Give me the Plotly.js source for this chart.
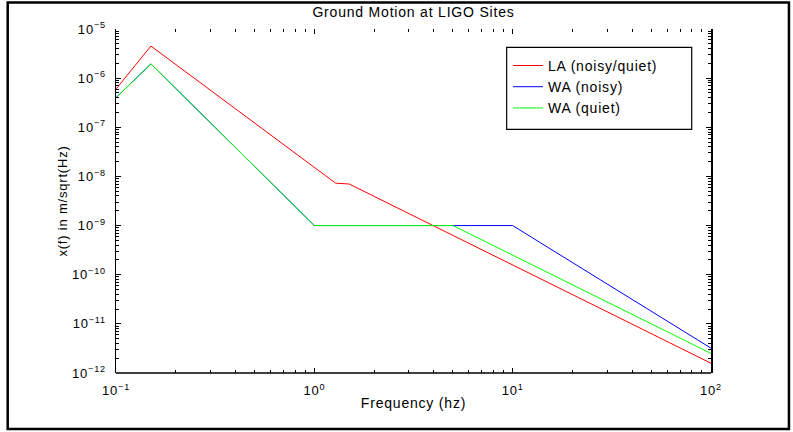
<!DOCTYPE html>
<html>
<head>
<meta charset="utf-8">
<script src="https://cdn.plot.ly/plotly-3.0.1.min.js"></script>
<style>
html,body{margin:0;padding:0;background:#fff;overflow:hidden;}
#chart{width:793px;height:432px;}
#chart text{letter-spacing:0.8px;}
#chart .legend .scrollbox{clip-path:none !important;}
</style>
</head>
<body>
<div id="chart"></div>
<script>
// ---- data ----
const seriesNames = ['LA (noisy/quiet)', 'WA (noisy)', 'WA (quiet)'];
const freqLA = [0.1, 0.15, 1.28, 1.5, 100];
const ampLA = [6.0e-7, 4.5e-6, 7.3e-9, 7.0e-9, 1.58e-12];
const freqWANoisy = [0.1, 0.15, 1, 10, 100];
const ampWANoisy = [4.0e-7, 1.95e-6, 1.0e-9, 1.0e-9, 3.2e-12];
const freqWAQuiet = [0.1, 0.15, 1, 5, 100];
const ampWAQuiet = [4.0e-7, 1.95e-6, 1.0e-9, 1.0e-9, 2.5e-12];

const xTickVals = [0.1, 1, 10, 100];
const xTickText = ['10<sup>\u22121</sup>', '10<sup>0</sup>', '10<sup>1</sup>', '10<sup>2</sup>'];
const yTickVals = [1e-12, 1e-11, 1e-10, 1e-9, 1e-8, 1e-7, 1e-6, 1e-5];
const yTickText = ['10<sup>\u221212</sup>', '10<sup>\u221211</sup>', '10<sup>\u221210</sup>', '10<sup>\u22129</sup>',
                   '10<sup>\u22128</sup>', '10<sup>\u22127</sup>', '10<sup>\u22126</sup>', '10<sup>\u22125</sup>'];

// minor tick positions (2..9 within each decade)
function minorTicks(lo, hi) {
  const out = [];
  for (let e = lo; e < hi; e++) for (let m = 2; m <= 9; m++) out.push(m * Math.pow(10, e));
  return out;
}

const FONT = 'Liberation Sans, Arial, Helvetica, sans-serif';

const traces = [
  {x: freqLA, y: ampLA, name: seriesNames[0], mode: 'lines', line: {color: '#ff0000', width: 1}},
  {x: freqWANoisy, y: ampWANoisy, name: seriesNames[1], mode: 'lines', line: {color: '#0000ff', width: 1}},
  {x: freqWAQuiet, y: ampWAQuiet, name: seriesNames[2], mode: 'lines', line: {color: '#00ff00', width: 1}}
];

const layout = {
  width: 793, height: 432,
  margin: {l: 116, r: 82, t: 29, b: 59, pad: 0},
  paper_bgcolor: '#ffffff', plot_bgcolor: '#ffffff',
  font: {family: FONT, size: 12, color: '#000'},
  showlegend: true,
  title: {text: 'Ground Motion at LIGO Sites', font: {family: FONT, size: 14, color: '#000'},
          x: 0.5, xref: 'paper', y: 0.972, yref: 'container', yanchor: 'middle'},
  xaxis: {
    type: 'log', range: [-1, 2], tickmode: 'array', tickvals: xTickVals, ticktext: xTickText,
    showgrid: false, zeroline: false, showline: false, mirror: 'ticks',
    ticks: 'inside', ticklen: 5, tickwidth: 1, tickcolor: '#000',
    minor: {tickmode: 'array', tickvals: minorTicks(-1, 2), ticks: 'inside', ticklen: 3, tickcolor: '#000', showgrid: false},
    tickfont: {family: FONT, size: 13, color: '#000'}, ticklabelstandoff: 8,
    title: {text: 'Frequency (hz)', font: {family: FONT, size: 14, color: '#000'}, standoff: 1}
  },
  yaxis: {
    type: 'log', range: [-12, -5], tickmode: 'array', tickvals: yTickVals, ticktext: yTickText,
    showgrid: false, zeroline: false, showline: true, linecolor: '#000', linewidth: 1.5, mirror: 'ticks',
    ticks: 'inside', ticklen: 5, tickwidth: 1, tickcolor: '#000',
    minor: {tickmode: 'array', tickvals: minorTicks(-12, -5), ticks: 'inside', ticklen: 3, tickcolor: '#000', showgrid: false},
    tickfont: {family: FONT, size: 13, color: '#000'}, ticklabelstandoff: 6,
    title: {text: 'x(f) in m/sqrt(Hz)', font: {family: FONT, size: 13, color: '#000'}, standoff: 5}
  },
  legend: {
    x: 0.6588, y: 0.9392, xanchor: 'left', yanchor: 'top',
    bgcolor: 'rgba(0,0,0,0)', borderwidth: 0,
    font: {family: FONT, size: 14, color: '#000'}
  },
  shapes: [
    // bottom axis line
    {type: 'line', xref: 'paper', yref: 'paper', x0: 0, x1: 1, y0: 0, y1: 0, line: {color: '#000', width: 1.5}},
    // legend frame
    {type: 'rect', xref: 'paper', yref: 'paper', x0: 0.6566, x1: 0.9676, y0: 0.7084, y1: 0.9468,
     line: {color: '#000', width: 1.2}, fillcolor: '#ffffff', layer: 'above'},
    // figure frame
    {type: 'rect', xref: 'paper', yref: 'paper', x0: -0.182, x1: 1.131, y0: -0.163, y1: 1.077,
     line: {color: '#000', width: 2.5}, fillcolor: 'rgba(0,0,0,0)', layer: 'above'}
  ]
};

Plotly.newPlot('chart', traces, layout, {displayModeBar: false, staticPlot: true});
</script>
</body>
</html>
